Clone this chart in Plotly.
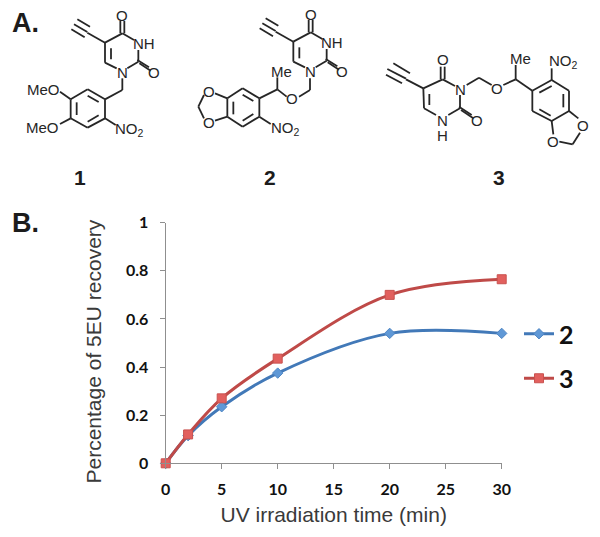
import plotly.graph_objects as go

# ---- chart data ----
time_min = [0, 2, 5, 10, 20, 30]
series_2 = [0, 0.115, 0.235, 0.375, 0.54, 0.54]
series_3 = [0, 0.12, 0.27, 0.435, 0.70, 0.765]
x_ticks = [0, 5, 10, 15, 20, 25, 30]
y_ticks = [0, 0.2, 0.4, 0.6, 0.8, 1]
y_tick_labels = ["0", "0.2", "0.4", "0.6", "0.8", "1"]

W, H = 600, 537
DARK = "#262626"
GREY = "#8f8f8f"
TICKFONT = dict(family="Lato", size=16, color="#111111", weight="bold")
TITLEFONT = dict(family="Liberation Sans", size=21, color="#3a3a3a")

fig = go.Figure()
fig.add_trace(go.Scatter(x=time_min, y=series_2, name="2", legendgroup="a", mode="lines+markers", cliponaxis=False,
    line=dict(color="#4279b8", width=3, shape="spline", smoothing=1.0),
    marker=dict(symbol="diamond", size=8, color="#5f98d6", line=dict(color="#4f86c4", width=1))))
fig.add_trace(go.Scatter(x=time_min, y=series_3, name="3", legendgroup="b", mode="lines+markers", cliponaxis=False,
    line=dict(color="#bf4a48", width=3, shape="spline", smoothing=1.0),
    marker=dict(symbol="square", size=9, color="#e2605e", line=dict(color="#c9524f", width=1))))

shapes, annos = [], []

def px(x): return x / W
def py(y): return 1 - y / H

def bond(x1, y1, x2, y2, w=1.8):
    # coordinates in thirds of a pixel (as measured on the 3x crops)
    shapes.append(dict(type="line", xref="paper", yref="paper", x0=px(x1/3), y0=py(y1/3), x1=px(x2/3), y1=py(y2/3),
                       line=dict(color=DARK, width=w)))

def bonds(seq, dx=0, dy=0):
    for b in seq:
        bond(b[0]+dx, b[1]+dy, b[2]+dx, b[3]+dy)

def label(x, y, t, size=15, bold=False, color=DARK, anchor="center", family="Liberation Sans"):
    annos.append(dict(x=px(x/3), y=py(y/3), xref="paper", yref="paper", text=f"<b>{t}</b>" if bold else t,
                      showarrow=False, xanchor=anchor, yanchor="middle",
                      font=dict(family=family, size=size, color=color)))

# uracil fragment shared by 1 and 2
uracil = [
    (315,128,367,100),(367,100,402,120),(415,150,415,185),(415,185,382,205),(350,205,315,188),(315,188,315,128),
    (333,145,333,178),
    (361,100,361,63),(373,100,373,63),
    (412,180,447,202),(418,190,452,212),
    (315,128,262,98),(270,80,232,58),(262,96,222,73),(254,112,214,88),
]
def uracil_labels(dx, dy):
    label(367+dx, 47+dy, "O")
    label(432+dx, 131+dy, "NH")
    label(367+dx, 218+dy, "N")
    label(462+dx, 218+dy, "O")

# compound 1
bonds(uracil); uracil_labels(0, 0)
bonds([(367,235,367,270),(367,270,315,298),
       (315,298,263,268),(263,268,212,298),(212,298,212,355),(212,355,263,383),(263,383,315,355),(315,355,315,298),
       (296,306,263,287),(230,307,230,345),(263,365,296,346),
       (180,275,212,298),(180,372,212,355),(315,355,347,375)])
label(130, 268, "MeO"); label(128, 383, "MeO")
label(388, 390, "NO<sub>2</sub>")

# compound 2
bonds(uracil, 565, -3); uracil_labels(565, -3)
bonds([(930,235,930,270),(930,270,897,290),(860,290,832,268),(832,268,832,232),(832,268,778,295),
       (778,295,728,265),(728,265,682,295),(682,295,682,350),(682,350,728,380),(728,380,778,350),(778,350,778,295),
       (760,303,728,284),(700,305,700,343),(728,362,760,342),
       (682,295,645,280),(682,350,645,362),(612,285,595,320),(595,320,612,355),(778,350,812,372)])
label(875, 297, "O"); label(843, 213, "Me")
label(628, 275, "O"); label(628, 367, "O")
label(855, 385, "NO<sub>2</sub>")

# compound 3
D3 = 900
bonds([(370,265,428,238),(428,238,465,258),(480,285,480,325),(480,325,445,345),(408,345,372,325),(372,325,370,265),
       (388,282,388,315),
       (422,238,422,200),(434,238,434,200),
       (477,320,515,345),(483,330,520,355),
       (370,265,318,238),(330,220,280,190),(318,236,262,207),(306,250,258,224),
       (500,255,537,233),(537,233,575,255),(610,255,647,238),(647,238,647,195),(647,238,697,272),
       (697,272,755,240),(755,240,807,272),(807,272,807,333),(807,333,755,363),(755,363,697,333),(697,333,697,272),
       (718,278,755,258),(790,282,790,322),(718,328,752,347),
       (755,240,755,205),(807,333,835,355),(755,363,760,403),(778,425,818,433),(818,433,840,398)], D3, 0)
label(D3+428, 178, "O"); label(D3+480, 268, "N")
label(D3+427, 362, "N"); label(D3+427, 405, "H"); label(D3+530, 362, "O")
label(D3+592, 265, "O"); label(D3+660, 177, "Me")
label(D3+790, 185, "NO<sub>2</sub>"); label(D3+848, 378, "O"); label(D3+760, 423, "O")

# panel letters and compound numbers
label(75, 68, "A.", 27, True, "#1c1c1c")
label(75, 668, "B.", 27, True, "#1c1c1c")
for x, y, t in [(240, 532, "1"), (810, 532, "2"), (1498, 532, "3")]:
    label(x, y, t, 21, True, "#1c1c1c")

# y-axis title (sits a little below the axis centre in the reference)
annos.append(dict(x=px(93), y=py(351.5), xref="paper", yref="paper", text="Percentage of 5EU recovery",
                  showarrow=False, textangle=-90, xanchor="center", yanchor="middle", font=TITLEFONT))

fig.update_layout(
    width=W, height=H, margin=dict(l=0, r=0, t=0, b=0, autoexpand=False), paper_bgcolor="white", plot_bgcolor="white",
    shapes=shapes, annotations=annos,
    showlegend=True,
    legend=dict(x=519/W, y=1-311/H, xanchor="left", yanchor="top", tracegroupgap=9, itemwidth=30,
                font=dict(family="Lato", size=25, color="#111111", weight="bold"), bgcolor="rgba(0,0,0,0)"),
    xaxis=dict(domain=[165.7/W, 501.7/W], range=[0, 30], tickmode="array", tickvals=x_ticks,
               ticks="outside", ticklen=5, tickcolor=GREY, tickwidth=1.3, showline=True, linecolor=GREY, linewidth=1.3,
               showgrid=False, zeroline=False, tickfont=TICKFONT, ticklabelstandoff=6,
               title=dict(text="UV irradiation time (min)", font=TITLEFONT, standoff=10)),
    yaxis=dict(domain=[1-463.3/H, 1-222.7/H], range=[0, 1], tickmode="array", tickvals=y_ticks, ticktext=y_tick_labels,
               ticks="outside", ticklen=5, tickcolor=GREY, tickwidth=1.3, showline=True, linecolor=GREY, linewidth=1.3,
               showgrid=False, zeroline=False, tickfont=TICKFONT, ticklabelstandoff=8),
)
fig.write_html("out.html", config={"displayModeBar": False}, post_script="document.body.style.margin='0';")
